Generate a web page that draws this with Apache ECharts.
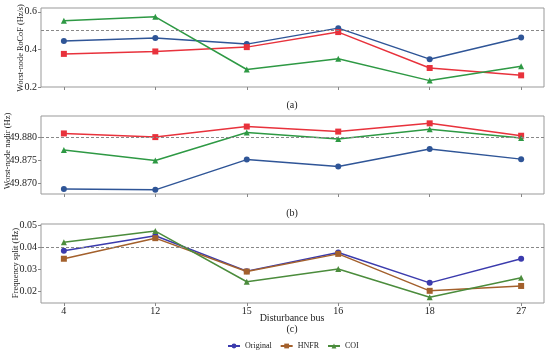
<!DOCTYPE html>
<html><head><meta charset="utf-8">
<script src="https://cdn.jsdelivr.net/npm/echarts@6/dist/echarts.min.js"></script>
<style>html,body{margin:0;padding:0;background:#fff}#c{width:550px;height:352px}</style>
</head><body><div id="c"></div>
<script>
const categories = ['4', '12', '15', '16', '18', '27'];
// (a) Worst-node RoCoF (Hz/s)
const rocofOriginal = [0.444, 0.460, 0.428, 0.513, 0.348, 0.463];
const rocofHNFR     = [0.376, 0.389, 0.412, 0.492, 0.301, 0.262];
const rocofCOI      = [0.552, 0.573, 0.293, 0.350, 0.234, 0.310];
const rocofTicks = [0.2, 0.4, 0.6];
const rocofLimit = 0.5;
// (b) Worst-node nadir (Hz)
const nadirOriginal = [49.8687, 49.8685, 49.8751, 49.8736, 49.8774, 49.8752];
const nadirHNFR     = [49.8808, 49.8800, 49.8823, 49.8812, 49.8830, 49.8803];
const nadirCOI      = [49.8772, 49.8749, 49.8810, 49.8796, 49.8817, 49.8798];
const nadirTicks = [49.870, 49.875, 49.880];
const nadirLimit = 49.880;
// (c) Frequency split (Hz)
const splitOriginal = [0.0384, 0.0452, 0.0292, 0.0376, 0.0239, 0.0348];
const splitHNFR     = [0.0348, 0.0441, 0.0290, 0.0370, 0.0203, 0.0225];
const splitCOI      = [0.0423, 0.0473, 0.0244, 0.0302, 0.0174, 0.0262];
const splitTicks = [0.02, 0.03, 0.04, 0.05];
const splitLimit = 0.045;

const FONT = 'Liberation Serif';
const idx = categories.map((_, i) => i);
const pts = arr => arr.map((v, i) => [i, v]);

const grids = [
  {left: 41, right: 6, top: 8, height: 79},
  {left: 41, right: 6, top: 116, height: 78},
  {left: 41, right: 6, top: 224, height: 79}
].map(g => Object.assign({show: true, borderColor: '#999', borderWidth: 1, backgroundColor: 'transparent'}, g));

function xAxis(gi, labels) {
  return {
    type: 'value', gridIndex: gi, min: -0.25, max: 5.25, position: 'bottom',
    axisLine: {show: false, onZero: false}, splitLine: {show: false},
    axisTick: {show: true, customValues: idx, length: 3, lineStyle: {color: '#888'}},
    axisLabel: {show: labels, customValues: idx, formatter: v => categories[Math.round(v)],
      fontFamily: FONT, fontSize: 10, color: '#222', margin: 3}
  };
}
function yAxis(gi, min, max, ticks, fmt) {
  return {
    type: 'value', gridIndex: gi, min: min, max: max, position: 'left',
    axisLine: {show: false, onZero: false}, splitLine: {show: false},
    axisTick: {show: true, customValues: ticks, length: 3, lineStyle: {color: '#888'}},
    axisLabel: {customValues: ticks, formatter: v => v.toFixed(fmt), fontFamily: FONT, fontSize: 10, color: '#222', margin: 4}
  };
}
function line(name, data, gi, color, symbol, size, limit) {
  const s = {
    name: name, type: 'line', xAxisIndex: gi, yAxisIndex: gi, data: pts(data),
    symbol: symbol, symbolSize: size, color: color,
    lineStyle: {width: 1.5, color: color}, itemStyle: {color: color}, z: 3
  };
  if (limit !== undefined) {
    s.markLine = {silent: true, symbol: 'none', label: {show: false},
      lineStyle: {type: [3, 2], color: '#888', width: 1}, data: [{yAxis: limit}]};
  }
  return s;
}
function txt(text, x, y, size, rot) {
  return {type: 'text', x: x, y: y, rotation: rot ? Math.PI / 2 : 0,
    style: {text: text, fontFamily: FONT, fontSize: size, fill: '#222', align: 'center', verticalAlign: 'middle'}};
}
const cB = '#2f5597', cR = '#e8323c', cG = '#2e9944';
const dB = '#3b3bad', dR = '#a3602c', dG = '#4b8c3c';

const option = {
  animation: false,
  backgroundColor: '#fff',
  grid: grids,
  xAxis: [xAxis(0, false), xAxis(1, false), xAxis(2, true)],
  yAxis: [
    yAxis(0, 0.2, 0.62, rocofTicks, 1),
    yAxis(1, 49.8676, 49.8846, nadirTicks, 3),
    yAxis(2, 0.0148, 0.0505, splitTicks, 2)
  ],
  legend: {
    top: 337, left: 222, itemWidth: 12, itemHeight: 6, itemGap: 8,
    textStyle: {fontFamily: FONT, fontSize: 8, color: '#222'},
    data: ['Original', 'HNFR', 'COI']
  },
  graphic: [
    txt('Worst-node RoCoF (Hz/s)', 21, 48, 8.3, true),
    txt('Worst-node nadir (Hz)', 8, 151, 8.5, true),
    txt('Frequency split (Hz)', 16, 263, 8.5, true),
    txt('Disturbance bus', 292, 318, 10, false),
    txt('(a)', 292, 105, 10, false),
    txt('(b)', 292, 213, 10, false),
    txt('(c)', 292, 329, 10, false)
  ],
  series: [
    line('Original', splitOriginal, 2, dB, 'circle', 6, splitLimit),
    line('HNFR', splitHNFR, 2, dR, 'rect', 6),
    line('COI', splitCOI, 2, dG, 'triangle', 6),
    line('Original', rocofOriginal, 0, cB, 'circle', 6, rocofLimit),
    line('HNFR', rocofHNFR, 0, cR, 'rect', 6),
    line('COI', rocofCOI, 0, cG, 'triangle', 6),
    line('Original', nadirOriginal, 1, cB, 'circle', 6, nadirLimit),
    line('HNFR', nadirHNFR, 1, cR, 'rect', 6),
    line('COI', nadirCOI, 1, cG, 'triangle', 6)
  ]
};
echarts.init(document.getElementById('c'), null, {renderer: 'canvas'}).setOption(option);
</script></body></html>
